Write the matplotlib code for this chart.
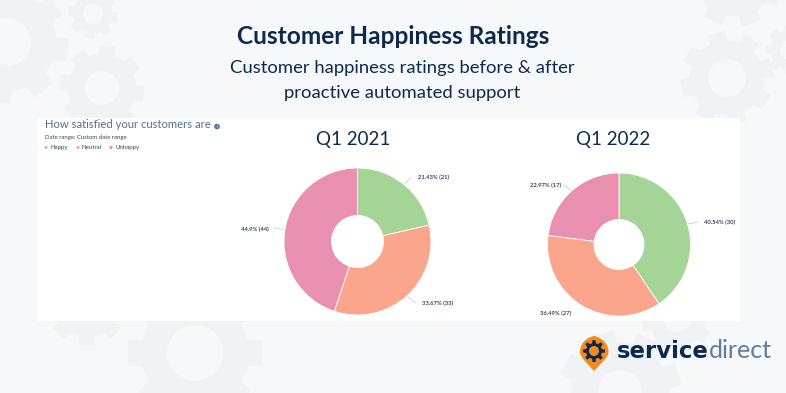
import matplotlib
matplotlib.use("Agg")
import matplotlib.pyplot as plt
from matplotlib.patches import Circle, Polygon, Rectangle, PathPatch
from matplotlib.path import Path
import numpy as np

W, H = 786, 393

# chart data
labels = ["Happy", "Neutral", "Unhappy"]
q1_2021 = [21, 33, 44]
q1_2022 = [30, 27, 17]
q1_2021_text = ["21.43% (21)", "33.67% (33)", "44.9% (44)"]
q1_2022_text = ["40.54% (30)", "36.49% (27)", "22.97% (17)"]
colors = ["#a5d497", "#fba58c", "#e98fb0"]

BG = "#f6f8fa"
GEAR = "#f0f3f6"
NAVY = "#0d2a4e"
LABEL = "#33475b"

plt.rcParams['font.family'] = ['Lato', 'DejaVu Sans']


def py(y):
    # pixel rows run down, the axes run up
    return H - y


def gear(ax, cx, cy, r, hole, rot=0.0, teeth=8, zorder=1):
    pts = []
    step = 2 * np.pi / teeth
    for i in range(teeth):
        a = rot + step * i
        for da, rr in [(-0.3, 0.8), (-0.24, 1.0), (0.24, 1.0), (0.3, 0.8)]:
            t = a + da * step
            pts.append((cx + r * rr * np.cos(t), py(cy) + r * rr * np.sin(t)))
    ax.add_patch(Polygon(pts, closed=True, fc=GEAR, ec="none", zorder=zorder))
    ax.add_patch(Circle((cx, py(cy)), hole, fc=BG, ec="none", zorder=zorder))


def donut(ax, values, texts, cx, cy, r, hole, text_pos, ticks):
    ax.pie(values, colors=colors, startangle=90, counterclock=False,
           center=(cx, py(cy)), radius=r,
           wedgeprops=dict(width=r - hole, edgecolor="white", linewidth=0.6, zorder=4),
           frame=False)
    for txt, (tx, ty), (x0, y0, x1, y1) in zip(texts, text_pos, ticks):
        ax.text(tx, py(ty), txt, fontsize=4.2, fontweight="bold", color=LABEL,
                ha="left", va="center", zorder=6)
        ax.plot([x0, x1], [py(y0), py(y1)], color="#cbd6e2", lw=0.7, zorder=3)


fig = plt.figure(figsize=(W / 100, H / 100), dpi=100, facecolor=BG)
ax = fig.add_axes([0, 0, 1, 1])

# background gears
gear(ax, 7, 42, 62, 24, rot=-0.14)
gear(ax, 93, 14, 25, 10, rot=-0.14)
gear(ax, 102, 88, 43, 17, rot=-0.14)
gear(ax, 87, 305, 41, 16, rot=0.0)
gear(ax, 195, 353, 68, 28, rot=0.0)
gear(ax, 735, -25, 52, 20, rot=0.33)
gear(ax, 727, 78, 47, 19, rot=0.23)
gear(ax, 790, 50, 25, 10, rot=0.0)
gear(ax, 620, 392, 62, 22, rot=0.3)
gear(ax, 677, 318, 36, 14, rot=0.2)

# white card
ax.add_patch(Rectangle((38, py(321)), 702, 203, fc="white", ec="none", zorder=2))

# titles
ax.text(393.5, py(36), "Customer Happiness Ratings", fontsize=17.6, fontweight="bold",
        color=NAVY, ha="center", va="center", zorder=5)
ax.text(402, py(68), "Customer happiness ratings before & after", fontsize=13.3,
        color=NAVY, ha="center", va="center", zorder=5)
ax.text(402, py(93), "proactive automated support", fontsize=13.3,
        color=NAVY, ha="center", va="center", zorder=5)

# card header
ax.text(45, py(125), "How satisfied your customers are", fontsize=8.1, color="#516f90",
        ha="left", va="center", zorder=5)
ax.add_patch(Circle((217, py(126.5)), 2.8, fc="#516f90", ec="none", zorder=5))
ax.text(217, py(126.5), "i", fontsize=3.5, color="white", ha="center", va="center", zorder=6)
ax.text(45, py(138), "Date range: Custom date range", fontsize=4.3, color=LABEL,
        ha="left", va="center", zorder=5)
for name, col, dx, tx in zip(labels, colors, [46, 78, 111], [50.5, 82, 115.5]):
    ax.add_patch(Circle((dx, py(147.5)), 1.6, fc=col, ec="none", zorder=5))
    ax.text(tx, py(147.5), name, fontsize=4.4, color=LABEL, ha="left", va="center", zorder=5)

ax.text(353.5, py(139), "Q1 2021", fontsize=13.5, color=NAVY, ha="center", va="center", zorder=5)
ax.text(613.5, py(139), "Q1 2022", fontsize=13.5, color=NAVY, ha="center", va="center", zorder=5)

donut(ax, q1_2021, q1_2021_text, 357.5, 241.5, 73.5, 26,
      [(418, 177.5), (421.5, 303), (241, 229)],
      [(403, 185, 411, 177.5), (407, 296, 415, 303), (274, 228, 284, 229.5)])
donut(ax, q1_2022, q1_2022_text, 619, 244.5, 71.5, 25,
      [(704, 222), (540, 313), (529.5, 185.5)],
      [(688, 224, 698, 222), (582, 305, 590, 306), (564, 185, 572, 191)])

# logo: pin with gear
pin = Path([(580, py(352)), (580, py(340)), (592, py(336)), (594, py(336)),
            (596, py(336)), (608.5, py(340)), (608.5, py(352)),
            (608.5, py(358)), (600, py(364)), (594, py(371)),
            (588, py(364)), (580, py(358)), (580, py(352))],
           [Path.MOVETO] + [Path.CURVE4] * 12)
ax.add_patch(PathPatch(pin, fc="#f58a1f", ec="none", zorder=5))
pts = []
for i in range(8):
    a = 2 * np.pi * i / 8
    for da, rr in [(-0.12, 8.0), (-0.07, 11.0), (0.07, 11.0), (0.12, 8.0)]:
        pts.append((594 + rr * np.cos(a + da * 2), py(351) + rr * np.sin(a + da * 2)))
ax.add_patch(Polygon(pts, closed=True, fc=NAVY, ec="none", zorder=6))
ax.add_patch(Circle((594, py(351)), 5, fc="#f58a1f", ec="none", zorder=7))
ax.text(616.5, py(351.5), "service", fontsize=16.4, fontweight="bold", color=NAVY,
        family="DejaVu Sans", ha="left", va="center", zorder=6)
ax.text(709, py(351), "direct", fontsize=18, color="#5f7d9c", ha="left", va="center", zorder=6)

ax.set_xlim(0, W)
ax.set_ylim(0, H)
ax.set_aspect("auto")
ax.axis("off")

plt.savefig("out.png", dpi=100, facecolor=BG)
plt.close()
